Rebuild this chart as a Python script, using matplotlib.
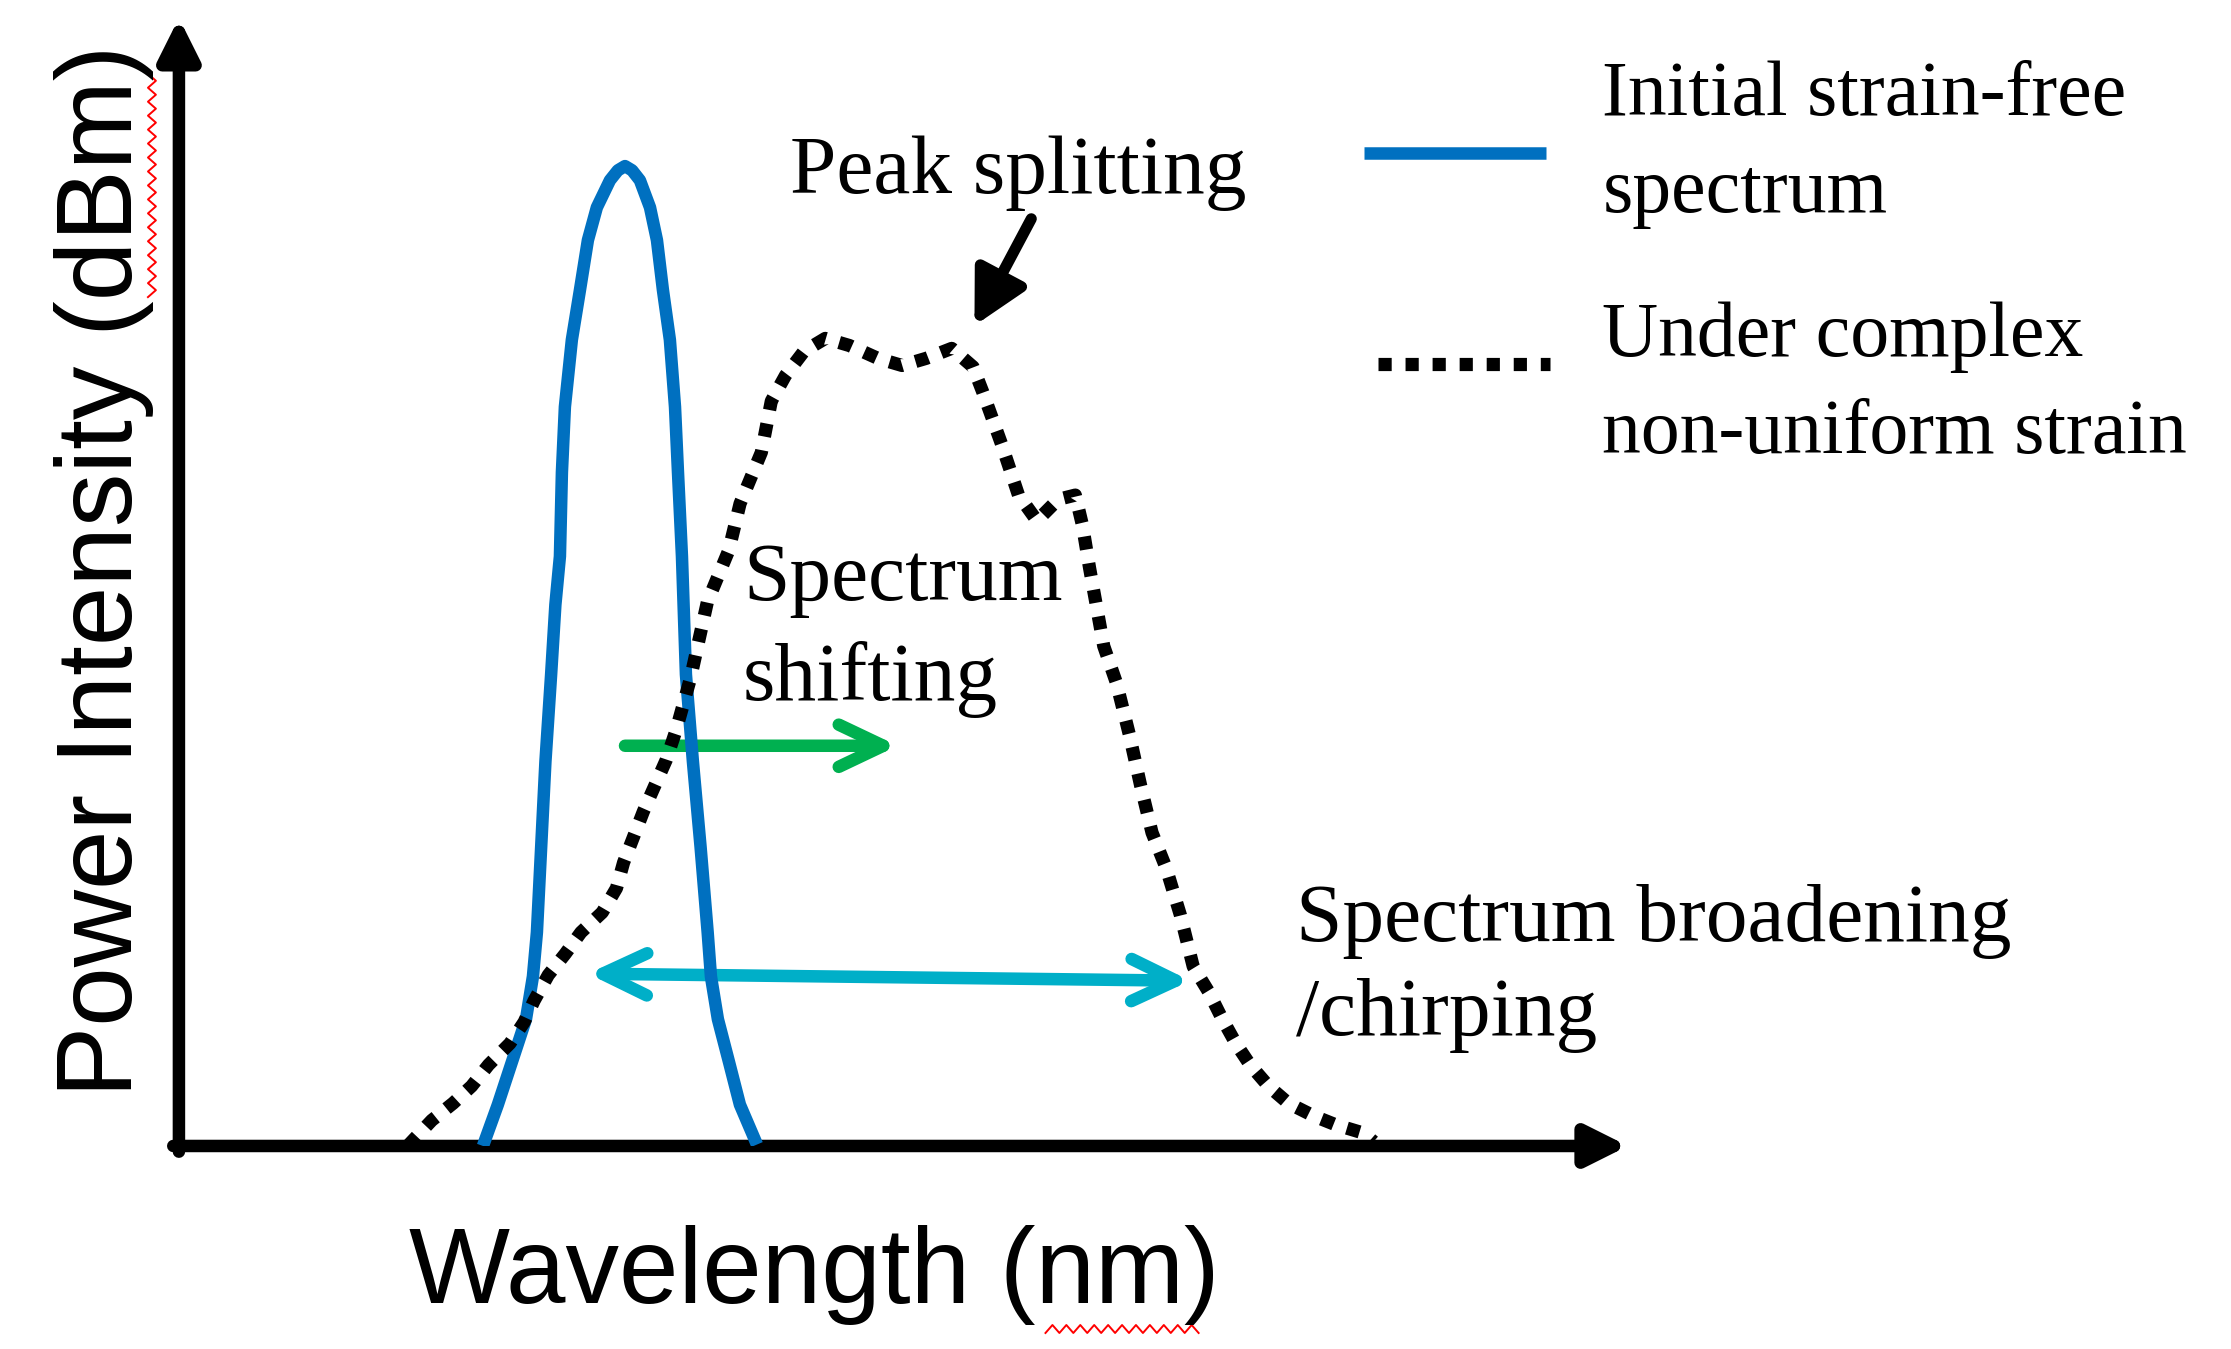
import numpy as np
import matplotlib
matplotlib.use('Agg')
import matplotlib.pyplot as plt


plt.rcParams.update({'font.family': 'Liberation Serif', 'font.size': 60})

# arbitrary units, origin at the corner of the two axis arrows
initial_wl = [21.4, 22.45, 23.44, 24.43, 24.92, 25.2, 25.5, 25.8, 26.2, 26.5, 26.82, 26.96,
              27.17, 27.66, 28.23, 28.79, 29.42, 30.34, 30.9, 31.4, 31.9, 32.45, 33.16, 33.65,
              34.07, 34.56, 34.92, 35.13, 35.41, 35.69, 36.18, 36.72, 37.22, 37.45, 37.94,
              38.72, 39.49, 40.69]
initial_pw = [0.0, 2.9, 5.9, 8.9, 11.9, 15.0, 21.0, 27.0, 33.1, 38.0, 41.4, 47.3,
              51.9, 56.6, 60.1, 63.6, 65.9, 67.8, 68.5, 68.8, 68.5, 67.8, 65.9, 63.6,
              60.1, 56.6, 51.9, 47.3, 41.4, 33.1, 27.0, 21.0, 15.0, 11.9, 8.9,
              5.9, 2.9, 0.1]

strained_wl = [16.1, 17.8, 19.3, 20.6, 21.8, 23.3, 24.3, 25.0, 26.0, 27.2, 28.3, 29.8, 30.8,
               31.3, 32.0, 32.7, 33.5, 34.3, 35.0, 36.0, 37.2, 38.7, 39.5, 41.0, 41.7, 42.7,
               44.0, 45.5, 47.2, 49.2, 50.9, 52.6, 54.4, 55.9, 56.6, 57.9, 59.1, 60.4, 61.9,
               63.1, 63.6, 64.1, 65.1, 66.0, 66.9, 67.7, 68.5, 69.5, 70.5, 71.4, 72.5, 73.4,
               74.4, 75.4, 76.7, 78.1, 79.9, 81.4, 83.4, 84.1]
strained_pw = [0.0, 1.8, 3.0, 4.2, 5.7, 7.2, 8.7, 10.2, 12.0, 13.5, 15.0, 16.4, 18.1,
               19.9, 21.7, 23.5, 25.3, 27.1, 29.2, 32.8, 38.2, 41.8, 45.1, 48.7, 52.3, 54.1,
               55.8, 56.7, 56.2, 55.3, 54.8, 55.3, 56.0, 54.7, 52.9, 49.3, 45.7, 43.9, 45.4,
               45.7, 43.6, 40.6, 35.1, 32.5, 28.9, 25.3, 22.0, 19.5, 16.2, 12.6, 10.8, 9.0,
               7.2, 5.7, 4.2, 3.0, 2.1, 1.5, 0.9, 0.3]

legend_labels = [['Initial strain-free', 'spectrum'], ['Under complex', 'non-uniform strain']]

BLUE = '#0070C0'
GREEN = '#00B050'
CYAN = '#00AFC8'


def squiggle(ax, start, stop, fixed, vertical):
	# red spell-check wave seen under some words
	t = np.arange(start, stop, 0.49)
	wave = fixed + np.where(np.arange(len(t)) % 2, 0.28, -0.28)
	if vertical:
		ax.plot(wave, t, color='red', lw=1.4, clip_on=False)
	else:
		ax.plot(t, wave, color='red', lw=1.4, clip_on=False)


fig = plt.figure(figsize=(22.31, 13.49), dpi=100)
ax = fig.add_axes([0.0802, 0.1505, 0.6463, 0.8288])
ax.set_xlim(0, 101.5)
ax.set_ylim(0, 78.5)
ax.axis('off')

# axes drawn as arrows
axis_style = dict(arrowstyle='-|>,head_length=0.8,head_width=0.4', color='black',
                  lw=9, shrinkA=0, shrinkB=0, mutation_scale=30)
ax.annotate('', xy=(102.0, 0), xytext=(-0.4, 0), arrowprops=axis_style, annotation_clip=False)
ax.annotate('', xy=(0, 79.2), xytext=(0, -0.4), arrowprops=axis_style, annotation_clip=False)

ax.plot(initial_wl, initial_pw, color=BLUE, lw=9, zorder=3, solid_capstyle='butt')
ax.plot(strained_wl, strained_pw, color='black', lw=9.5, ls=(0, (1, 1.05)),
        dash_capstyle='butt', zorder=4)

# annotation arrows
ax.annotate('', xy=(50.6, 28.1), xytext=(31.4, 28.1),
            arrowprops=dict(arrowstyle='->,head_length=0.8,head_width=0.38', color=GREEN,
                            lw=9, shrinkA=0, shrinkB=0, mutation_scale=40), zorder=2)
ax.annotate('', xy=(71.2, 11.6), xytext=(28.8, 12.1),
            arrowprops=dict(arrowstyle='<->,head_length=0.8,head_width=0.38', color=CYAN,
                            lw=9, shrinkA=0, shrinkB=0, mutation_scale=40), zorder=2)
ax.annotate('', xy=(56.0, 57.6), xytext=(60.0, 65.1),
            arrowprops=dict(arrowstyle='-|>,head_length=0.8,head_width=0.42', color='black',
                            lw=8, shrinkA=0, shrinkB=0, mutation_scale=40), zorder=5)

ax.text(43.0, 66.9, 'Peak splitting', ha='left', va='baseline')
ax.text(39.7, 38.3, 'Spectrum', ha='left', va='baseline')
ax.text(39.7, 31.3, 'shifting', ha='left', va='baseline')
ax.text(78.6, 14.4, 'Spectrum broadening', ha='left', va='baseline')
ax.text(78.6, 7.8, '/chirping', ha='left', va='baseline')

# legend
ax.plot([83.4, 96.2], [69.7, 69.7], color=BLUE, lw=9, solid_capstyle='butt', clip_on=False)
ax.plot([84.4, 96.5], [54.9, 54.9], color='black', lw=9.5, ls=(0, (1, 1.05)),
        dash_capstyle='butt', clip_on=False)
for (first, second), y0 in zip(legend_labels, [72.4, 55.5]):
	ax.text(100.2, y0, first, ha='left', va='baseline', fontsize=56)
	ax.text(100.2, y0 - 6.85, second, ha='left', va='baseline', fontsize=56)

ax.text(44.7, -11.0, 'Wavelength (nm)', ha='center', va='baseline',
        family='Liberation Sans', fontsize=77)
ax.text(-3.27, 40.4, 'Power Intensity (dBm)', ha='center', va='baseline', rotation=90,
        rotation_mode='anchor', family='Liberation Sans', fontsize=77)

squiggle(ax, 59.6, 75.6, -1.9, vertical=True)
squiggle(ax, 61.0, 71.9, -12.85, vertical=False)

fig.savefig('out.png', dpi=100)
